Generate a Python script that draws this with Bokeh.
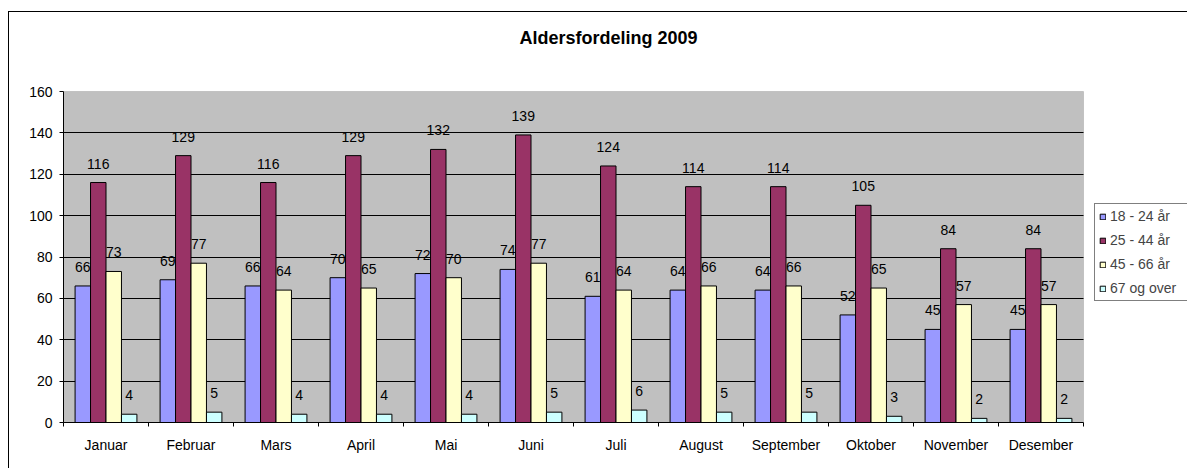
from bokeh.plotting import figure
from bokeh.models import (ColumnDataSource, Range1d, FixedTicker, Legend, LegendItem, LabelSet,
                          Label, BoxAnnotation)
from bokeh.core.properties import value
from bokeh.transform import dodge
from bokeh.embed import file_html
from bokeh.resources import INLINE

months = ["Januar", "Februar", "Mars", "April", "Mai", "Juni", "Juli",
          "August", "September", "Oktober", "November", "Desember"]
series_names = ["18 - 24 år", "25 - 44 år", "45 - 66 år", "67 og over"]
age_18_24 = [66, 69, 66, 70, 72, 74, 61, 64, 64, 52, 45, 45]
age_25_44 = [116, 129, 116, 129, 132, 139, 124, 114, 114, 105, 84, 84]
age_45_66 = [73, 77, 64, 65, 70, 77, 64, 66, 66, 65, 57, 57]
age_67_up = [4, 5, 4, 4, 4, 5, 6, 5, 5, 3, 2, 2]
y_ticks = [0, 20, 40, 60, 80, 100, 120, 140, 160]
title_text = "Aldersfordeling 2009"

colors = ["#9999FF", "#993366", "#FFFFCC", "#CCFFFF"]
FONT = "Liberation Sans"
FS = "14px"

W, H = 1179, 457
BL, BB = 54, 47
PLOT_W, PLOT_H = 1020, 331          # pixel size of the grey plot area
n = len(months)
ymax = y_ticks[-1]
x_end = n * (W - BL) / PLOT_W       # frame extends to the right edge (legend area)
y_end = ymax * (H - BB) / PLOT_H    # frame extends to the top (title area)
px_x = PLOT_W / n                   # pixels per category
px_y = PLOT_H / ymax                # pixels per unit

xc = [i + 0.5 for i in range(n)]
src = ColumnDataSource(dict(x=xc, s0=age_18_24, s1=age_25_44, s2=age_45_66, s3=age_67_up))

p = figure(width=W, height=H, output_backend="svg", toolbar_location=None,
           x_range=Range1d(0, x_end), y_range=Range1d(0, y_end),
           min_border_left=BL, min_border_right=0, min_border_top=0, min_border_bottom=BB)
p.margin = (11, 0, 0, 8)
p.styles = {"border-left": "1px solid black", "border-top": "1px solid black"}
p.background_fill_color = "white"
p.border_fill_color = "white"
p.outline_line_color = None

# grey plot area
p.add_layout(BoxAnnotation(left=0, right=n, bottom=0, top=ymax, fill_color="#C0C0C0",
                           fill_alpha=1, line_color="#808080", line_width=1, level="image"))

bw = 1 / 5.5
offsets = [-1.5 * bw, -0.5 * bw, 0.5 * bw, 1.5 * bw]
renderers = []
for k, col in enumerate(["s0", "s1", "s2", "s3"]):
    r = p.vbar(x=dodge("x", offsets[k], range=p.x_range), top=col, width=bw, source=src,
               fill_color=colors[k], line_color="black", line_width=1)
    renderers.append(r)
    p.add_layout(LabelSet(x=dodge("x", offsets[k], range=p.x_range), y=col, text=col,
                          source=src, y_offset=14, text_align="center",
                          text_baseline="alphabetic", text_font=value(FONT),
                          text_font_size=value(FS), text_color=value("black")))

# axes
p.yaxis.bounds = (0, ymax)
p.yaxis.ticker = FixedTicker(ticks=y_ticks)
p.yaxis.major_tick_out = 4
p.yaxis.major_tick_in = 0
p.yaxis.minor_tick_line_color = None
p.yaxis.major_label_standoff = 7
p.yaxis.axis_line_color = "black"
p.yaxis.major_tick_line_color = "black"
p.yaxis.major_label_text_font = FONT
p.yaxis.major_label_text_font_size = FS
p.yaxis.major_label_text_color = "black"

p.xaxis.bounds = (0, n)
p.xaxis.ticker = FixedTicker(ticks=xc, minor_ticks=list(range(0, n + 1)))
p.xaxis.major_label_overrides = {x: m for x, m in zip(xc, months)}
p.xaxis.major_tick_line_color = None
p.xaxis.major_tick_out = 0
p.xaxis.major_tick_in = 0
p.xaxis.minor_tick_out = 4
p.xaxis.minor_tick_in = 0
p.xaxis.minor_tick_line_color = "black"
p.xaxis.major_label_standoff = 10
p.xaxis.axis_line_color = "black"
p.xaxis.major_label_text_font = FONT
p.xaxis.major_label_text_font_size = FS
p.xaxis.major_label_text_color = "black"

p.xgrid.visible = False
p.ygrid.ticker = FixedTicker(ticks=y_ticks[1:-1])
p.ygrid.cross_bounds = (0, n)
p.ygrid.grid_line_color = "black"
p.ygrid.grid_line_width = 1

# title
p.add_layout(Label(x=(607 - 62) / px_x, y=ymax + (90 - 36) / px_y, text=title_text,
                   text_align="center", text_baseline="middle", text_font=FONT,
                   text_font_size="18px", text_font_style="bold", text_color="black"))

legend = Legend(items=[LegendItem(label=nm, renderers=[r]) for nm, r in zip(series_names, renderers)],
                location=(1031, 121), glyph_width=7, glyph_height=7, label_height=16,
                label_width=90, spacing=8, padding=4, margin=0, label_standoff=4,
                label_text_font=FONT, label_text_font_size=FS,
                border_line_color="black", background_fill_color="white",
                background_fill_alpha=1)
p.add_layout(legend)

open("out.html", "w").write(file_html(p, INLINE))
